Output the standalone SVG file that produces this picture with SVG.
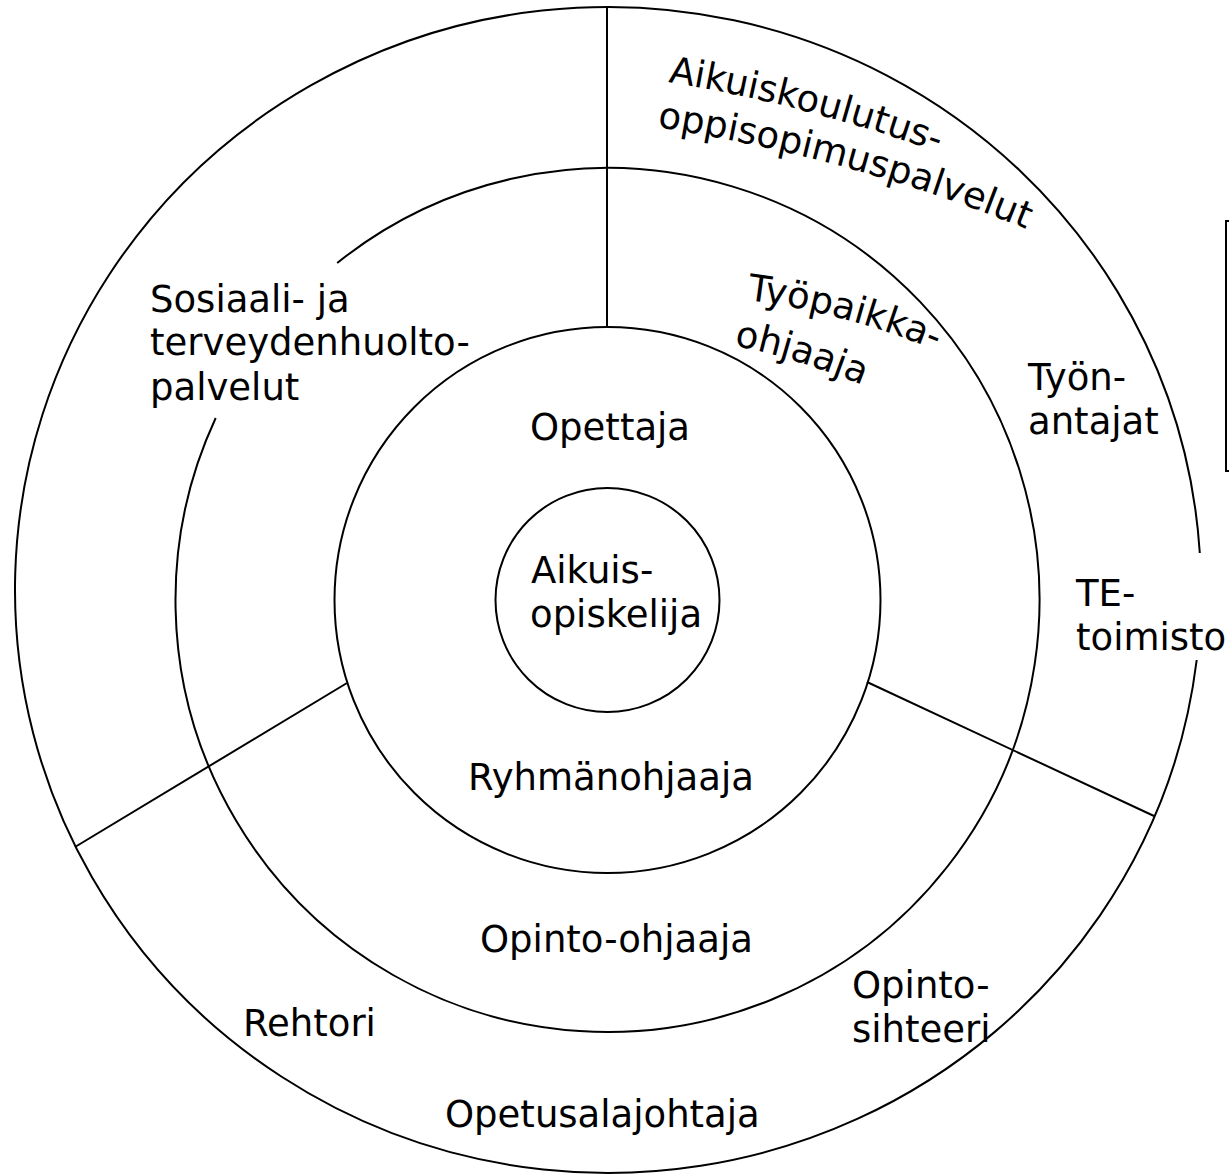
<svg xmlns="http://www.w3.org/2000/svg" width="1229" height="1174" viewBox="0 0 1229 1174">
<style>
.ln{fill:none;stroke:#000;stroke-width:2}
.t{font-family:"DejaVu Sans",Verdana,"Liberation Sans",sans-serif;font-size:37px;fill:#000}
</style>
<defs>
<path id="p-aik" d="M668,82 Q811,105 960,160"/>
<path id="p-opp" d="M657,127 Q865,160 1040,235"/>
<path id="p-tyo" d="M747,300 Q851,313 955,358"/>
<path id="p-ohj" d="M734,346 Q790,355 880,392"/>
</defs>
<rect width="1229" height="1174" fill="#fff"/>
<g id="ring-outer">
<path class="ln" d="M1196.7,660 A593,583 0 1 1 1199.8,553"/>
<text class="t"><textPath href="#p-aik">Aikuiskoulutus-</textPath></text>
<text class="t"><textPath href="#p-opp">oppisopimuspalvelut</textPath></text>
<text class="t" x="1028" y="390">Työn-</text>
<text class="t" x="1028" y="434">antajat</text>
<text class="t" x="1076" y="606">TE-</text>
<text class="t" x="1076" y="650">toimisto</text>
<text class="t" x="852" y="998">Opinto-</text>
<text class="t" x="852" y="1042">sihteeri</text>
<text class="t" x="243" y="1036">Rehtori</text>
<text class="t" x="445" y="1127">Opetusalajohtaja</text>
</g>
<g id="ring-second">
<path class="ln" d="M337.2,263 A432,432 0 1 1 215.7,418"/>
<text class="t" x="150" y="312">Sosiaali- ja</text>
<text class="t" x="150" y="355">terveydenhuolto-</text>
<text class="t" x="150" y="400">palvelut</text>
<text class="t"><textPath href="#p-tyo">Työpaikka-</textPath></text>
<text class="t"><textPath href="#p-ohj">ohjaaja</textPath></text>
<text class="t" x="480" y="952">Opinto-ohjaaja</text>
</g>
<g id="ring-third">
<circle class="ln" cx="607.5" cy="600" r="273"/>
<text class="t" x="530" y="440">Opettaja</text>
<text class="t" x="468" y="790">Ryhmänohjaaja</text>
</g>
<g id="ring-inner">
<circle class="ln" cx="607.5" cy="600" r="112"/>
<text class="t" x="531" y="583">Aikuis-</text>
<text class="t" x="530" y="627">opiskelija</text>
</g>
<g id="connectors">
<line class="ln" x1="607" y1="7" x2="607" y2="327"/>
<line class="ln" x1="347" y1="683" x2="75" y2="847"/>
<line class="ln" x1="867" y1="682" x2="1154" y2="816"/>
</g>
<g id="side-box">
<rect class="ln" x="1226" y="221" width="20" height="250"/>
</g>
</svg>
